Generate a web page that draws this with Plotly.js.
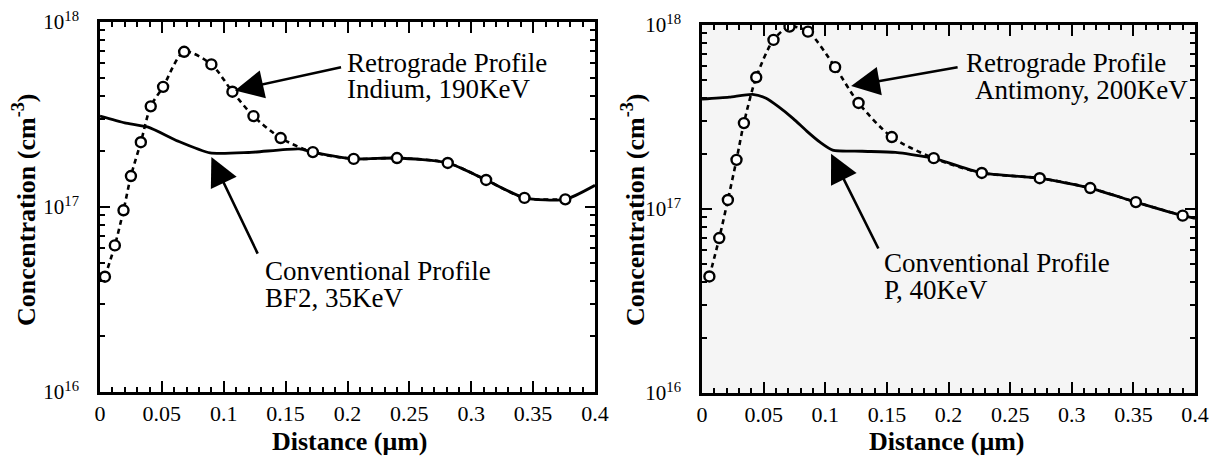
<!DOCTYPE html>
<html>
<head>
<meta charset="utf-8">
<script src="https://cdn.plot.ly/plotly-3.0.1.min.js"></script>
<style>
  html, body { margin: 0; padding: 0; background: #fff; }
  #chart { width: 1212px; height: 460px; }
</style>
</head>
<body>
<div id="chart"></div>
<script>
// ---- Left panel: Indium retrograde vs BF2 conventional ----
const leftRetroX = [0.004, 0.012, 0.019, 0.025, 0.033, 0.041, 0.051, 0.068, 0.090, 0.107, 0.124, 0.146, 0.172, 0.205, 0.240, 0.281, 0.312, 0.343, 0.376];
const leftRetroY = [4.2e16, 6.2e16, 9.6e16, 1.47e17, 2.24e17, 3.5e17, 4.46e17, 6.9e17, 5.9e17, 4.2e17, 3.1e17, 2.36e17, 1.98e17, 1.82e17, 1.84e17, 1.73e17, 1.4e17, 1.12e17, 1.1e17];
const leftConvX = [0, 0.020, 0.039, 0.063, 0.089, 0.120, 0.161, 0.172, 0.205, 0.240, 0.281, 0.312, 0.343, 0.376, 0.400];
const leftConvY = [3.1e17, 2.85e17, 2.7e17, 2.27e17, 1.96e17, 1.97e17, 2.06e17, 1.98e17, 1.82e17, 1.84e17, 1.73e17, 1.4e17, 1.12e17, 1.1e17, 1.31e17];

// ---- Right panel: Antimony retrograde vs P conventional ----
const rightRetroX = [0.006, 0.014, 0.021, 0.028, 0.034, 0.044, 0.058, 0.071, 0.086, 0.108, 0.127, 0.154, 0.188, 0.227, 0.274, 0.315, 0.352, 0.390];
const rightRetroY = [4.3e16, 6.95e16, 1.12e17, 1.85e17, 2.93e17, 5.2e17, 8.3e17, 9.8e17, 9.2e17, 5.9e17, 3.77e17, 2.46e17, 1.89e17, 1.57e17, 1.47e17, 1.3e17, 1.09e17, 9.2e16];
const rightConvX = [0, 0.022, 0.041, 0.052, 0.062, 0.074, 0.085, 0.096, 0.106, 0.130, 0.157, 0.182, 0.188, 0.227, 0.274, 0.315, 0.352, 0.390, 0.400];
const rightConvY = [3.96e17, 4.06e17, 4.2e17, 4.0e17, 3.6e17, 3.1e17, 2.65e17, 2.3e17, 2.09e17, 2.06e17, 2.03e17, 1.92e17, 1.89e17, 1.57e17, 1.47e17, 1.3e17, 1.09e17, 9.2e16, 8.9e16];

// ---- Tick labels ----
const xTickVals = [0, 0.05, 0.1, 0.15, 0.2, 0.25, 0.3, 0.35, 0.4];
const xTickText = ['0', '0.05', '0.1', '0.15', '0.2', '0.25', '0.3', '0.35', '0.4'];
const yTickVals = [1e16, 1e17, 1e18];
const yTickText = ['10<sup>16</sup>', '10<sup>17</sup>', '10<sup>18</sup>'];

// ---- Texts ----
const yTitle = 'Concentration (cm<sup>-3</sup>)';
const xTitle = 'Distance (\u03bcm)';
const leftRetroLabel = ['Retrograde Profile', 'Indium, 190KeV'];
const leftConvLabel = ['Conventional Profile', 'BF2, 35KeV'];
const rightRetroLabel = ['Retrograde Profile', 'Antimony, 200KeV'];
const rightConvLabel = ['Conventional Profile', 'P, 40KeV'];

const SERIF = 'Liberation Serif';
const W = 1212, H = 460;
const px = v => v / W;
const py = v => 1 - v / H;

function convTrace(x, y, xa, ya) {
  return { x, y, xaxis: xa, yaxis: ya, type: 'scatter', mode: 'lines',
    line: { color: '#000', width: 2.8, shape: 'spline', smoothing: 0.6 }, hoverinfo: 'skip' };
}
function retroTrace(x, y, xa, ya) {
  return { x, y, xaxis: xa, yaxis: ya, type: 'scatter', mode: 'lines+markers',
    line: { color: '#000', width: 2.6, dash: '5px,4px', shape: 'spline', smoothing: 0.8 },
    marker: { symbol: 'circle', size: 10, color: '#fff', line: { color: '#000', width: 2.4 } },
    hoverinfo: 'skip' };
}

const data = [
  convTrace(leftConvX, leftConvY, 'x', 'y'),
  retroTrace(leftRetroX, leftRetroY, 'x', 'y'),
  convTrace(rightConvX, rightConvY, 'x2', 'y2'),
  retroTrace(rightRetroX, rightRetroY, 'x2', 'y2')
];

function xAxis(domain, anchor) {
  return {
    domain, anchor, range: [0, 0.4], tickmode: 'array', tickvals: xTickVals, ticktext: xTickText,
    ticks: 'inside', ticklen: 11, tickwidth: 2, tickcolor: '#000',
    minor: { dtick: 0.01, ticks: 'inside', ticklen: 5, tickwidth: 2, tickcolor: '#000', showgrid: false },
    showline: true, linewidth: 2.8, linecolor: '#000', mirror: 'ticks',
    showgrid: false, zeroline: false, fixedrange: true, ticklabelstandoff: 0,
    tickfont: { family: SERIF, size: 22, color: '#000' }
  };
}
function yAxis(domain, anchor) {
  return {
    domain, anchor, type: 'log', range: [16, 18], tickmode: 'array', tickvals: yTickVals, ticktext: yTickText,
    ticks: 'inside', ticklen: 10, tickwidth: 2, tickcolor: '#000',
    minor: { dtick: 'D1', ticks: 'inside', ticklen: 5, tickwidth: 2, tickcolor: '#000', showgrid: false },
    showline: true, linewidth: 2.8, linecolor: '#000', mirror: 'ticks',
    showgrid: false, zeroline: false, fixedrange: true, ticklabelstandoff: 14,
    tickfont: { family: SERIF, size: 21, color: '#000' }
  };
}

function textAnn(text, x, y, opts) {
  return Object.assign({ text, xref: 'paper', yref: 'paper', x, y, xanchor: 'left', yanchor: 'middle',
    showarrow: false, font: { family: SERIF, size: 27, color: '#000' } }, opts || {});
}
function arrowAnn(xref, yref, tipX, tipY, tailX, tailY) {
  return { text: '', xref, yref, axref: xref, ayref: yref, x: tipX, y: tipY, ax: tailX, ay: tailY,
    showarrow: true, arrowhead: 2, arrowsize: 2.2, arrowwidth: 2.6, arrowcolor: '#000', standoff: 0 };
}

const boldFont = { family: SERIF, size: 26, color: '#000', weight: 'bold' };
const annotations = [
  textAnn(leftRetroLabel[0], px(345), py(63)),
  textAnn(leftRetroLabel[1], px(345), py(89)),
  textAnn(leftConvLabel[0], px(263), py(271)),
  textAnn(leftConvLabel[1], px(263), py(298)),
  textAnn(rightRetroLabel[0], px(964), py(63)),
  textAnn(rightRetroLabel[1], px(973), py(90)),
  textAnn(rightConvLabel[0], px(882), py(263)),
  textAnn(rightConvLabel[1], px(882), py(290)),
  // axis titles
  textAnn(xTitle, px(350), py(441), { xanchor: 'center', font: boldFont }),
  textAnn(xTitle, px(947), py(441), { xanchor: 'center', font: boldFont }),
  textAnn(yTitle, px(24), py(210), { xanchor: 'center', textangle: -90, font: boldFont }),
  textAnn(yTitle, px(633), py(210), { xanchor: 'center', textangle: -90, font: boldFont }),
  // arrows
  arrowAnn('x', 'y', 0.109, 17.63, 0.196, 17.757),
  arrowAnn('x', 'y', 0.090, 17.27, 0.128, 16.74),
  arrowAnn('x2', 'y2', 0.121, 17.668, 0.2086, 17.772),
  arrowAnn('x2', 'y2', 0.1047, 17.30, 0.1437, 16.777)
];

const layout = {
  width: W, height: H,
  margin: { l: 0, r: 0, t: 0, b: 0 },
  paper_bgcolor: '#fff', plot_bgcolor: '#fff',
  showlegend: false,
  font: { family: SERIF, color: '#000' },
  xaxis: xAxis([100 / W, 595 / W], 'y'),
  yaxis: yAxis([1 - 392 / H, 1 - 22 / H], 'x'),
  xaxis2: xAxis([702 / W, 1195 / W], 'y2'),
  yaxis2: yAxis([1 - 393 / H, 1 - 25 / H], 'x2'),
  shapes: [
    { type: 'rect', xref: 'x2 domain', yref: 'y2 domain', x0: 0, x1: 1, y0: 0, y1: 1,
      fillcolor: '#f5f5f5', line: { width: 0 }, layer: 'below' }
  ],
  annotations
};

Plotly.newPlot('chart', data, layout, { staticPlot: true, displayModeBar: false });
</script>
</body>
</html>
